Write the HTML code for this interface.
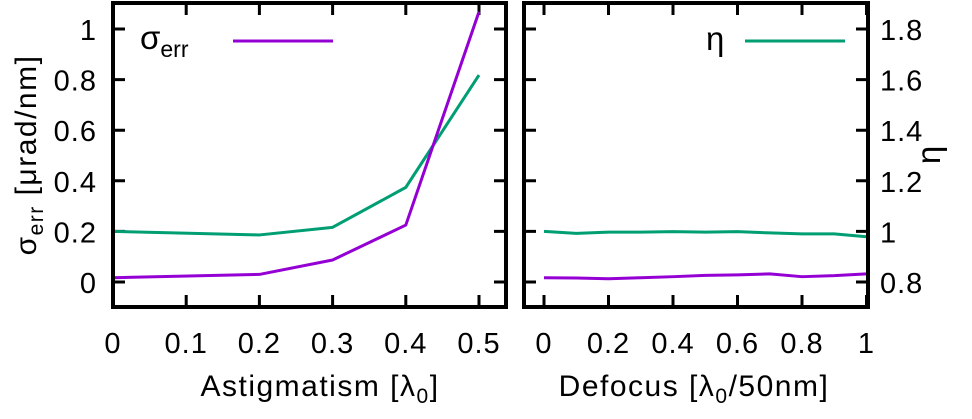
<!DOCTYPE html>
<html><head><meta charset="utf-8">
<style>
html,body{margin:0;padding:0;background:#fff;}
svg{display:block;font-family:"Liberation Sans",Arial,sans-serif;}
</style></head>
<body>
<svg id="chart" width="972" height="419" viewBox="0 0 972 419"></svg>
<script>
// Left panel data (Astigmatism)
const astigX = [0, 0.2, 0.3, 0.4, 0.5];
const astigSigma = [0.017, 0.03, 0.087, 0.225, 1.068];
const astigEta = [1.0, 0.986, 1.016, 1.174, 1.618];
// Right panel data (Defocus)
const defocusX = [0, 0.1, 0.2, 0.3, 0.4, 0.5, 0.6, 0.7, 0.8, 0.9, 1.0];
const defocusSigma = [0.017, 0.016, 0.013, 0.017, 0.021, 0.026, 0.028, 0.032, 0.021, 0.025, 0.032];
const defocusEta = [1.0, 0.992, 0.997, 0.997, 0.999, 0.997, 0.999, 0.994, 0.99, 0.99, 0.979];
// Tick labels
const leftXTicks = [0, 0.1, 0.2, 0.3, 0.4, 0.5];
const rightXTicks = [0, 0.2, 0.4, 0.6, 0.8, 1];
const sigmaTicks = [0, 0.2, 0.4, 0.6, 0.8, 1];
const etaTicks = [0.8, 1, 1.2, 1.4, 1.6, 1.8];

const NS = "http://www.w3.org/2000/svg";
const svg = document.getElementById('chart');
function mk(tag, attrs, parent){
  const e = document.createElementNS(NS, tag);
  for (const k in attrs) e.setAttribute(k, attrs[k]);
  (parent||svg).appendChild(e);
  return e;
}
const PURPLE = '#9400d3', GREEN = '#009e73';
const TF = 29;
const ySig = v => 282 - v * 253;
const yEta = v => ySig(v - 0.8);
const xL = v => 113 + v * 732;
const xR = v => 544 + v * 322.5;

const frameT = 3, frameB = 307;

function panel(name, x0, x1, xs, xTicks, fmt){
  const g = mk('g', {});
  
  
  xTicks.forEach(t => {
    const x = xs(t);
    const tk = mk('path', {d:`M${x},${frameB}v-12M${x},${frameT}v12`, stroke:'#000','stroke-width':3}, g);
    
    
    const lb = mk('text', {x:x, y:353, 'font-size':TF, 'text-anchor':'middle', 'letter-spacing':1}, g);
    lb.textContent = fmt(t);
    
    
  });
  sigmaTicks.forEach(t => {
    const y = ySig(t);
    const tk = mk('path', {d:`M${x0},${y}h12M${x1},${y}h-12`, stroke:'#000','stroke-width':3}, g);
    
    
  });
  return g;
}
function line(g, name, xs, xsData, ysData, yfn, color){
  const d = xsData.map((v,i)=>(i?'L':'M')+xs(v)+','+yfn(ysData[i])).join('');
  const p = mk('path', {d:d, fill:'none', stroke:color, 'stroke-width':3, 'stroke-linejoin':'round'}, g);
  
  
}
const defs = mk('defs', {});
const c1 = mk('clipPath', {id:'clipL'}, defs); mk('rect',{x:113,y:frameT,width:393,height:frameB-frameT},c1);
const c2 = mk('clipPath', {id:'clipR'}, defs); mk('rect',{x:524,y:frameT,width:344,height:frameB-frameT},c2);

const gl = panel('left', 113, 506, xL, leftXTicks, v=>String(v));
const glc = mk('g', {'clip-path':'url(#clipL)'}, gl);
line(glc, 'left-eta-line', xL, astigX, astigEta, yEta, GREEN);
line(glc, 'left-sigma-line', xL, astigX, astigSigma, ySig, PURPLE);

const gr = panel('right', 524, 868, xR, rightXTicks, v=>String(v));
const grc = mk('g', {'clip-path':'url(#clipR)'}, gr);
line(grc, 'right-eta-line', xR, defocusX, defocusEta, yEta, GREEN);
line(grc, 'right-sigma-line', xR, defocusX, defocusSigma, ySig, PURPLE);

const f1 = mk('rect', {x:113, y:frameT, width:393, height:frameB-frameT, fill:'none', stroke:'#000', 'stroke-width':4});


const f2 = mk('rect', {x:524, y:frameT, width:344, height:frameB-frameT, fill:'none', stroke:'#000', 'stroke-width':4});



sigmaTicks.forEach(t=>{
  const lb = mk('text', {x:97, y:ySig(t)+11, 'font-size':TF, 'text-anchor':'end', 'letter-spacing':1}, svg);
  lb.textContent = String(t);
  
  
});
etaTicks.forEach(t=>{
  const lb = mk('text', {x:880, y:yEta(t)+11, 'font-size':TF, 'text-anchor':'start', 'letter-spacing':1}, svg);
  lb.textContent = String(t);
  
  
});

svg.insertAdjacentHTML('beforeend', `
<text x="320" y="396" font-size="30" letter-spacing="1.5" text-anchor="middle">Astigmatism [λ<tspan font-size="21" dy="7">0</tspan><tspan dy="-7">]</tspan></text>
<text x="694" y="396" font-size="30" letter-spacing="1.5" text-anchor="middle">Defocus [λ<tspan font-size="21" dy="7">0</tspan><tspan dy="-7">/50nm]</tspan></text>
<text transform="translate(36,155) rotate(-90)" font-size="30" letter-spacing="1.5" text-anchor="middle">σ<tspan font-size="21" dy="7">err</tspan><tspan dy="-7"> [μrad/nm]</tspan></text>
<text transform="translate(940,155) rotate(-90)" font-size="33" text-anchor="middle">η</text>
<g>
<text x="140" y="49" font-size="33">σ<tspan font-size="23" dy="8">err</tspan></text>
<line x1="233" y1="41" x2="333" y2="41" stroke="#9400d3" stroke-width="3"/>
</g>
<g>
<text x="706" y="50" font-size="33">η</text>
<line x1="745" y1="41" x2="845" y2="41" stroke="#009e73" stroke-width="3"/>
</g>`);
</script>
</body></html>
